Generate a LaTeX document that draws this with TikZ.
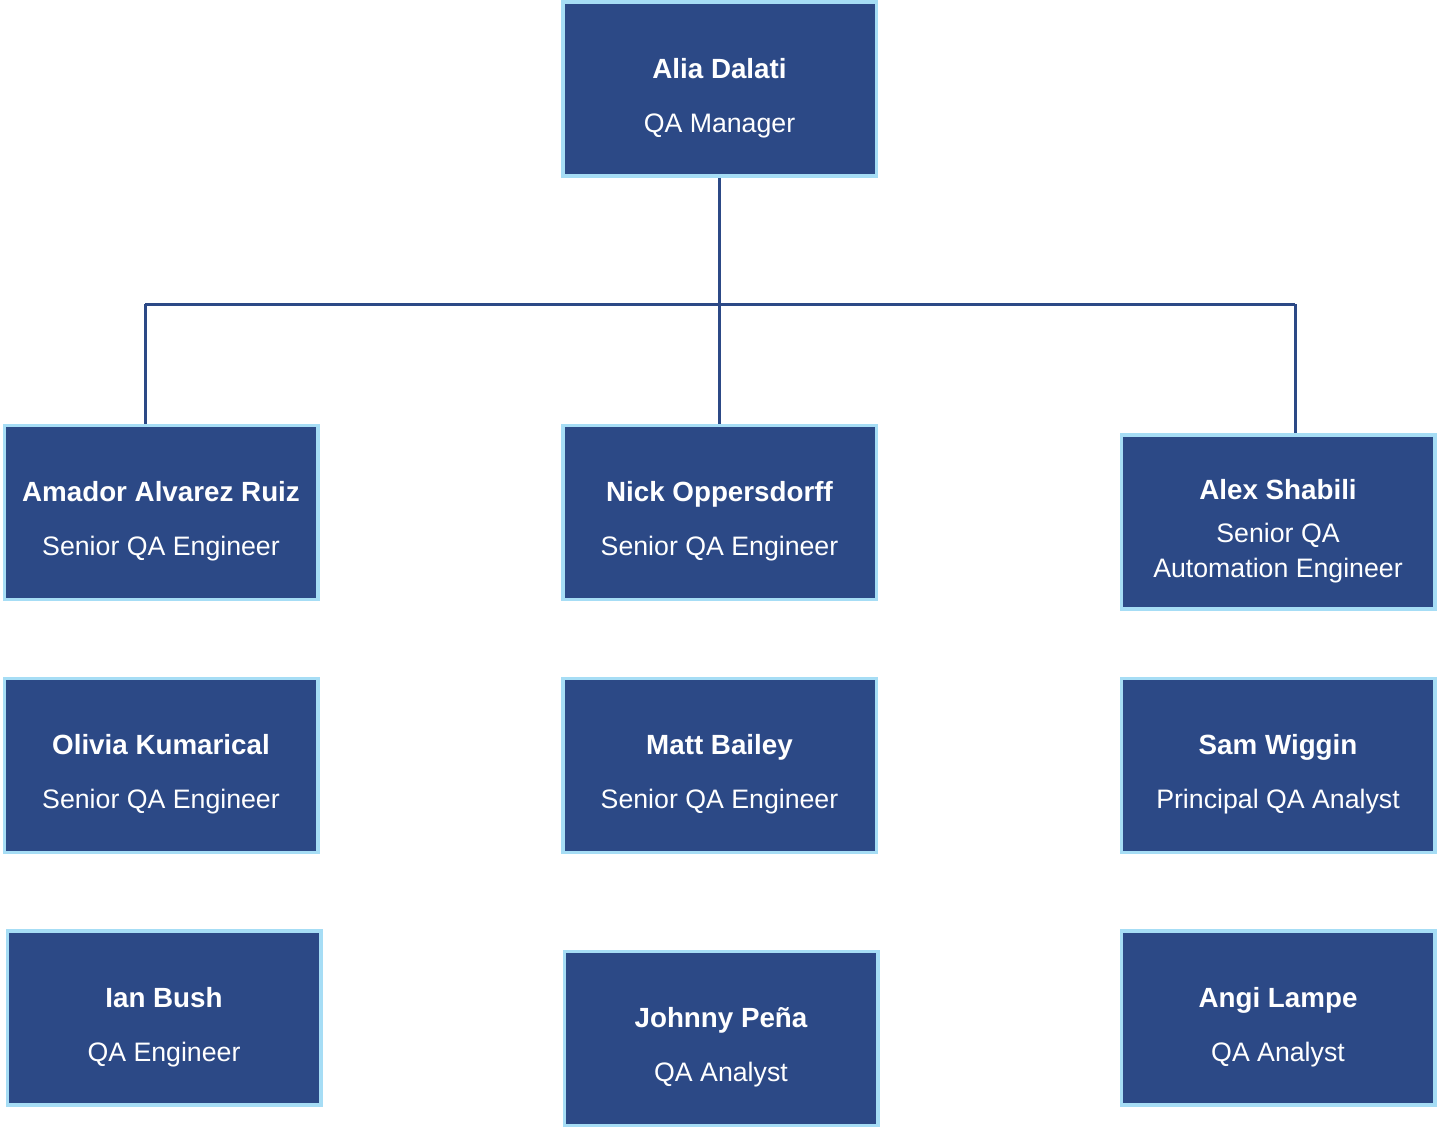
\documentclass[tikz,border=0pt]{standalone}
\usepackage{fontspec}
\setmainfont{Liberation Sans}
\usepackage{tikz}
\usetikzlibrary{positioning}
\definecolor{qanavy}{HTML}{2C4986}
\definecolor{qasky}{HTML}{A6DDF5}
\tikzstyle{every picture}+=[remember picture]

\begin{document}
\begin{tikzpicture}%[show background grid]
\tikzstyle{person} = [draw=qasky, fill=qanavy, line width=0.035cm, text=white,
  rectangle, minimum width=3.135cm, minimum height=1.74cm, inner sep=0pt,
  align=center, font=\fontsize{7.6}{10}\selectfont]
\tikzstyle{link} = [draw=qanavy, line width=0.03cm]
\newcommand{\who}[2]{\rule{0pt}{0.38cm}{\fontsize{7.9}{10}\selectfont\bfseries #1}\\[5.4pt]#2}

\useasboundingbox (0,0) rectangle (14.38,-11.28);

\node[person] (alia) at (7.195,-0.89) {\who{Alia Dalati}{QA Manager}};

\node[person] (amador) at (1.61,-5.125) {\who{Amador Alvarez Ruiz}{Senior QA Engineer}};
\node[person] (nick) at (7.195,-5.125) {\who{Nick Oppersdorff}{Senior QA Engineer}};
\node[person] (alex) at (12.78,-5.22) {\rule{0pt}{0.38cm}{\fontsize{7.9}{10}\selectfont\bfseries Alex Shabili}\\[2.2pt]Senior QA\\Automation Engineer};

\node[person] (olivia) at (1.61,-7.655) {\who{Olivia Kumarical}{Senior QA Engineer}};
\node[person] (matt) at (7.195,-7.655) {\who{Matt Bailey}{Senior QA Engineer}};
\node[person] (sam) at (12.78,-7.655) {\who{Sam Wiggin}{Principal QA Analyst}};

\node[person] (ian) at (1.64,-10.18) {\who{Ian Bush}{QA Engineer}};
\node[person] (johnny) at (7.21,-10.385) {\who{Johnny Peña}{QA Analyst}};
\node[person] (angi) at (12.78,-10.18) {\who{Angi Lampe}{QA Analyst}};

% bus bar under the manager
\coordinate (busL) at (1.45,-3.04);
\coordinate (busR) at (12.95,-3.04);
\draw[link] (busL) -- (busR);
\draw[link] (alia.south) -- (nick.north);
\draw[link] (busL) -- (busL |- amador.north);
\draw[link] (busR) -- (busR |- alex.north);

\end{tikzpicture}
\end{document}
